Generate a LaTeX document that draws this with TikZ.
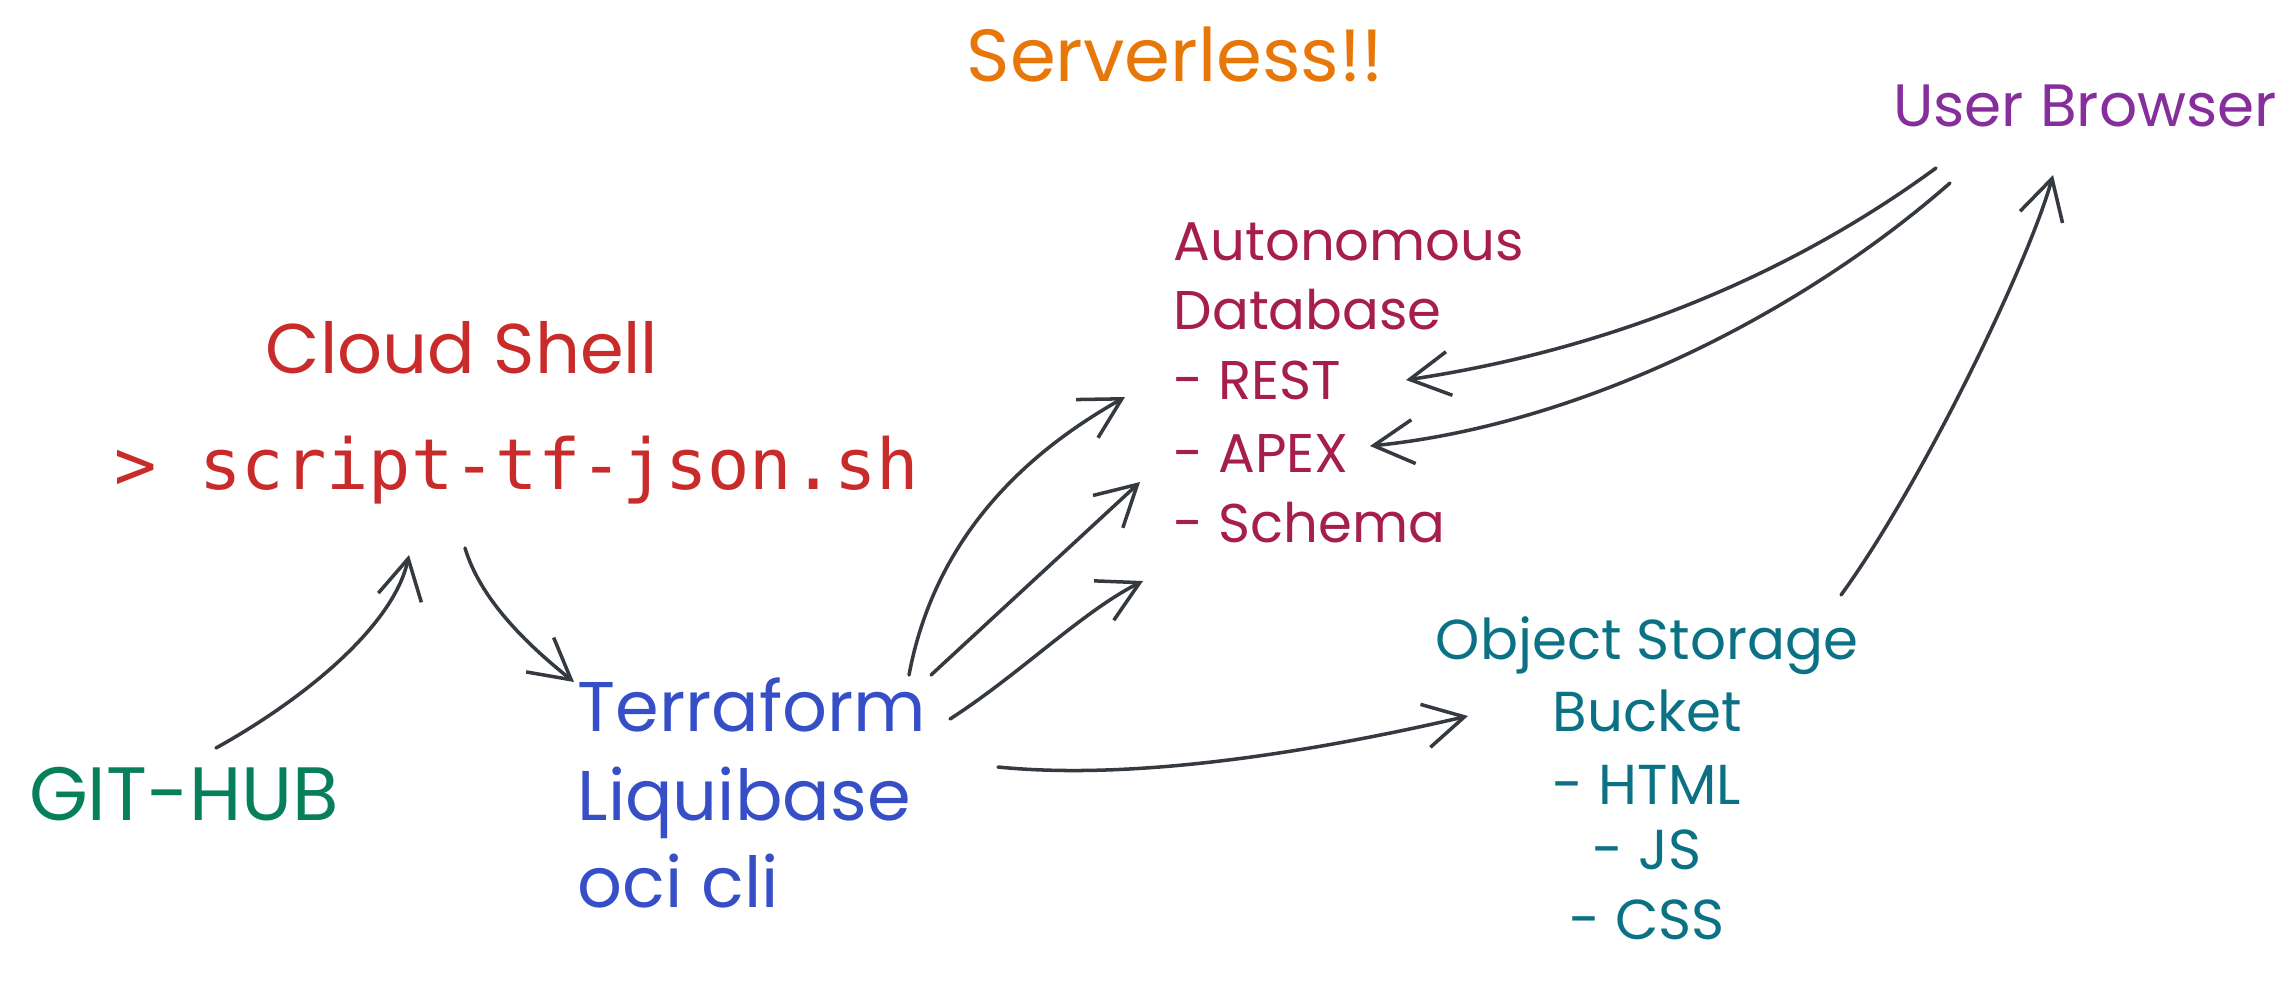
\documentclass[tikz,border=0pt]{standalone}
\usepackage{fontspec}
\setmainfont{Poppins}
\setmonofont{DejaVu Sans Mono}
\usetikzlibrary{arrows.meta,positioning}

\definecolor{serverorange}{HTML}{E8770A}
\definecolor{browserpurple}{HTML}{862E9C}
\definecolor{dbcrimson}{HTML}{A61E4D}
\definecolor{shellred}{HTML}{C92A2A}
\definecolor{toolblue}{HTML}{364FC7}
\definecolor{gitgreen}{HTML}{087F5B}
\definecolor{storeteal}{HTML}{0B7285}
\definecolor{arrowgray}{HTML}{343A40}

\begin{document}
\begin{tikzpicture}[
  x=0.01cm, y=-0.01cm,
  every node/.style={inner sep=0pt, text height=1.1em, text depth=0pt},
  titletext/.style={text=serverorange, font={\fontsize{21}{25}\selectfont}},
  browsertext/.style={text=browserpurple, font={\fontsize{17}{20}\selectfont}},
  dbtext/.style={text=dbcrimson, anchor=west, font={\fontsize{15.5}{19}\selectfont}},
  shelltext/.style={text=shellred, font={\fontsize{20}{24}\selectfont}},
  scripttext/.style={text=shellred, anchor=west, font={\ttfamily\fontsize{20}{24}\selectfont}},
  tooltext/.style={text=toolblue, anchor=west, font={\fontsize{20}{24}\selectfont}},
  gittext/.style={text=gitgreen, font={\fontsize{21.5}{25}\selectfont}},
  storetext/.style={text=storeteal, font={\fontsize{16}{19}\selectfont}},
  arr/.style={draw=arrowgray, line width=1pt, line cap=round,
    -{Straight Barb[length=4mm, width=4.4mm, line width=1pt]}},
]

\fill[white] (0,0) rectangle (2291,984);
\useasboundingbox (0,0) rectangle (2291,984);

% texts
\node[titletext] (serverless) at (1175,62) {Serverless!!};
\node[browsertext] (browser) at (2085,107) {User Browser};

\node[dbtext] (adb) at (1173,241) {Autonomous};
\node[dbtext] (adb2) at (1173,310) {Database};
\node[dbtext] (rest) at (1173,380) {- REST};
\node[dbtext] (apex) at (1173,453) {- APEX};
\node[dbtext] (schema) at (1173,523) {- Schema};

\node[shelltext] (shell) at (462,354) {Cloud Shell};
\node[scripttext] (script) at (114,470) {> script-tf-json.sh};

\node[tooltext] (tf) at (577,712) {Terraform};
\node[tooltext] (lqb) at (577,801) {Liquibase};
\node[tooltext] (oci) at (577,888) {oci cli};

\node[gittext] (git) at (184,801) {GIT-HUB};

\node[storetext] (obj) at (1647,640) {Object Storage};
\node[storetext] (bucket) at (1647,712) {Bucket};
\node[storetext] (html) at (1647,785) {- HTML};
\node[storetext] (js) at (1647,850) {- JS};
\node[storetext] (css) at (1647,920) {- CSS};

% connectors
\draw[arr] ([shift={(32,-53)}]git.center) .. controls +(90,-50) and +(-15,70) .. ([shift={(295,85)}]script.west);
\draw[arr] ([shift={(351,78)}]script.west) .. controls +(15,50) and +(-50,-40) .. ([shift={(-3,-30)}]tf.west);

\draw[arr] ([shift={(332,-37)}]tf.west) .. controls +(30,-160) and +(-70,40) .. ([shift={(-48,17)}]rest.west);
\draw[arr] ([shift={(354,-37)}]tf.west) -- ([shift={(-33,29)}]apex.west);
\draw[arr] ([shift={(373,7)}]tf.west) .. controls +(70,-45) and +(-60,30) .. ([shift={(-30,58)}]schema.west);
\draw[arr] ([shift={(421,55)}]tf.west) .. controls +(150,15) and +(-130,30) .. ([shift={(-179,4)}]bucket.center);

\draw[arr] ([shift={(-149,61)}]browser.center) .. controls +(-150,110) and +(200,-30) .. ([shift={(233,0)}]rest.west);
\draw[arr] ([shift={(-135,76)}]browser.center) .. controls +(-160,140) and +(200,-20) .. ([shift={(197,-7)}]apex.west);
\draw[arr] ([shift={(194,-45)}]obj.center) .. controls +(80,-110) and +(-25,90) .. ([shift={(-32,68)}]browser.center);

\end{tikzpicture}
\end{document}
